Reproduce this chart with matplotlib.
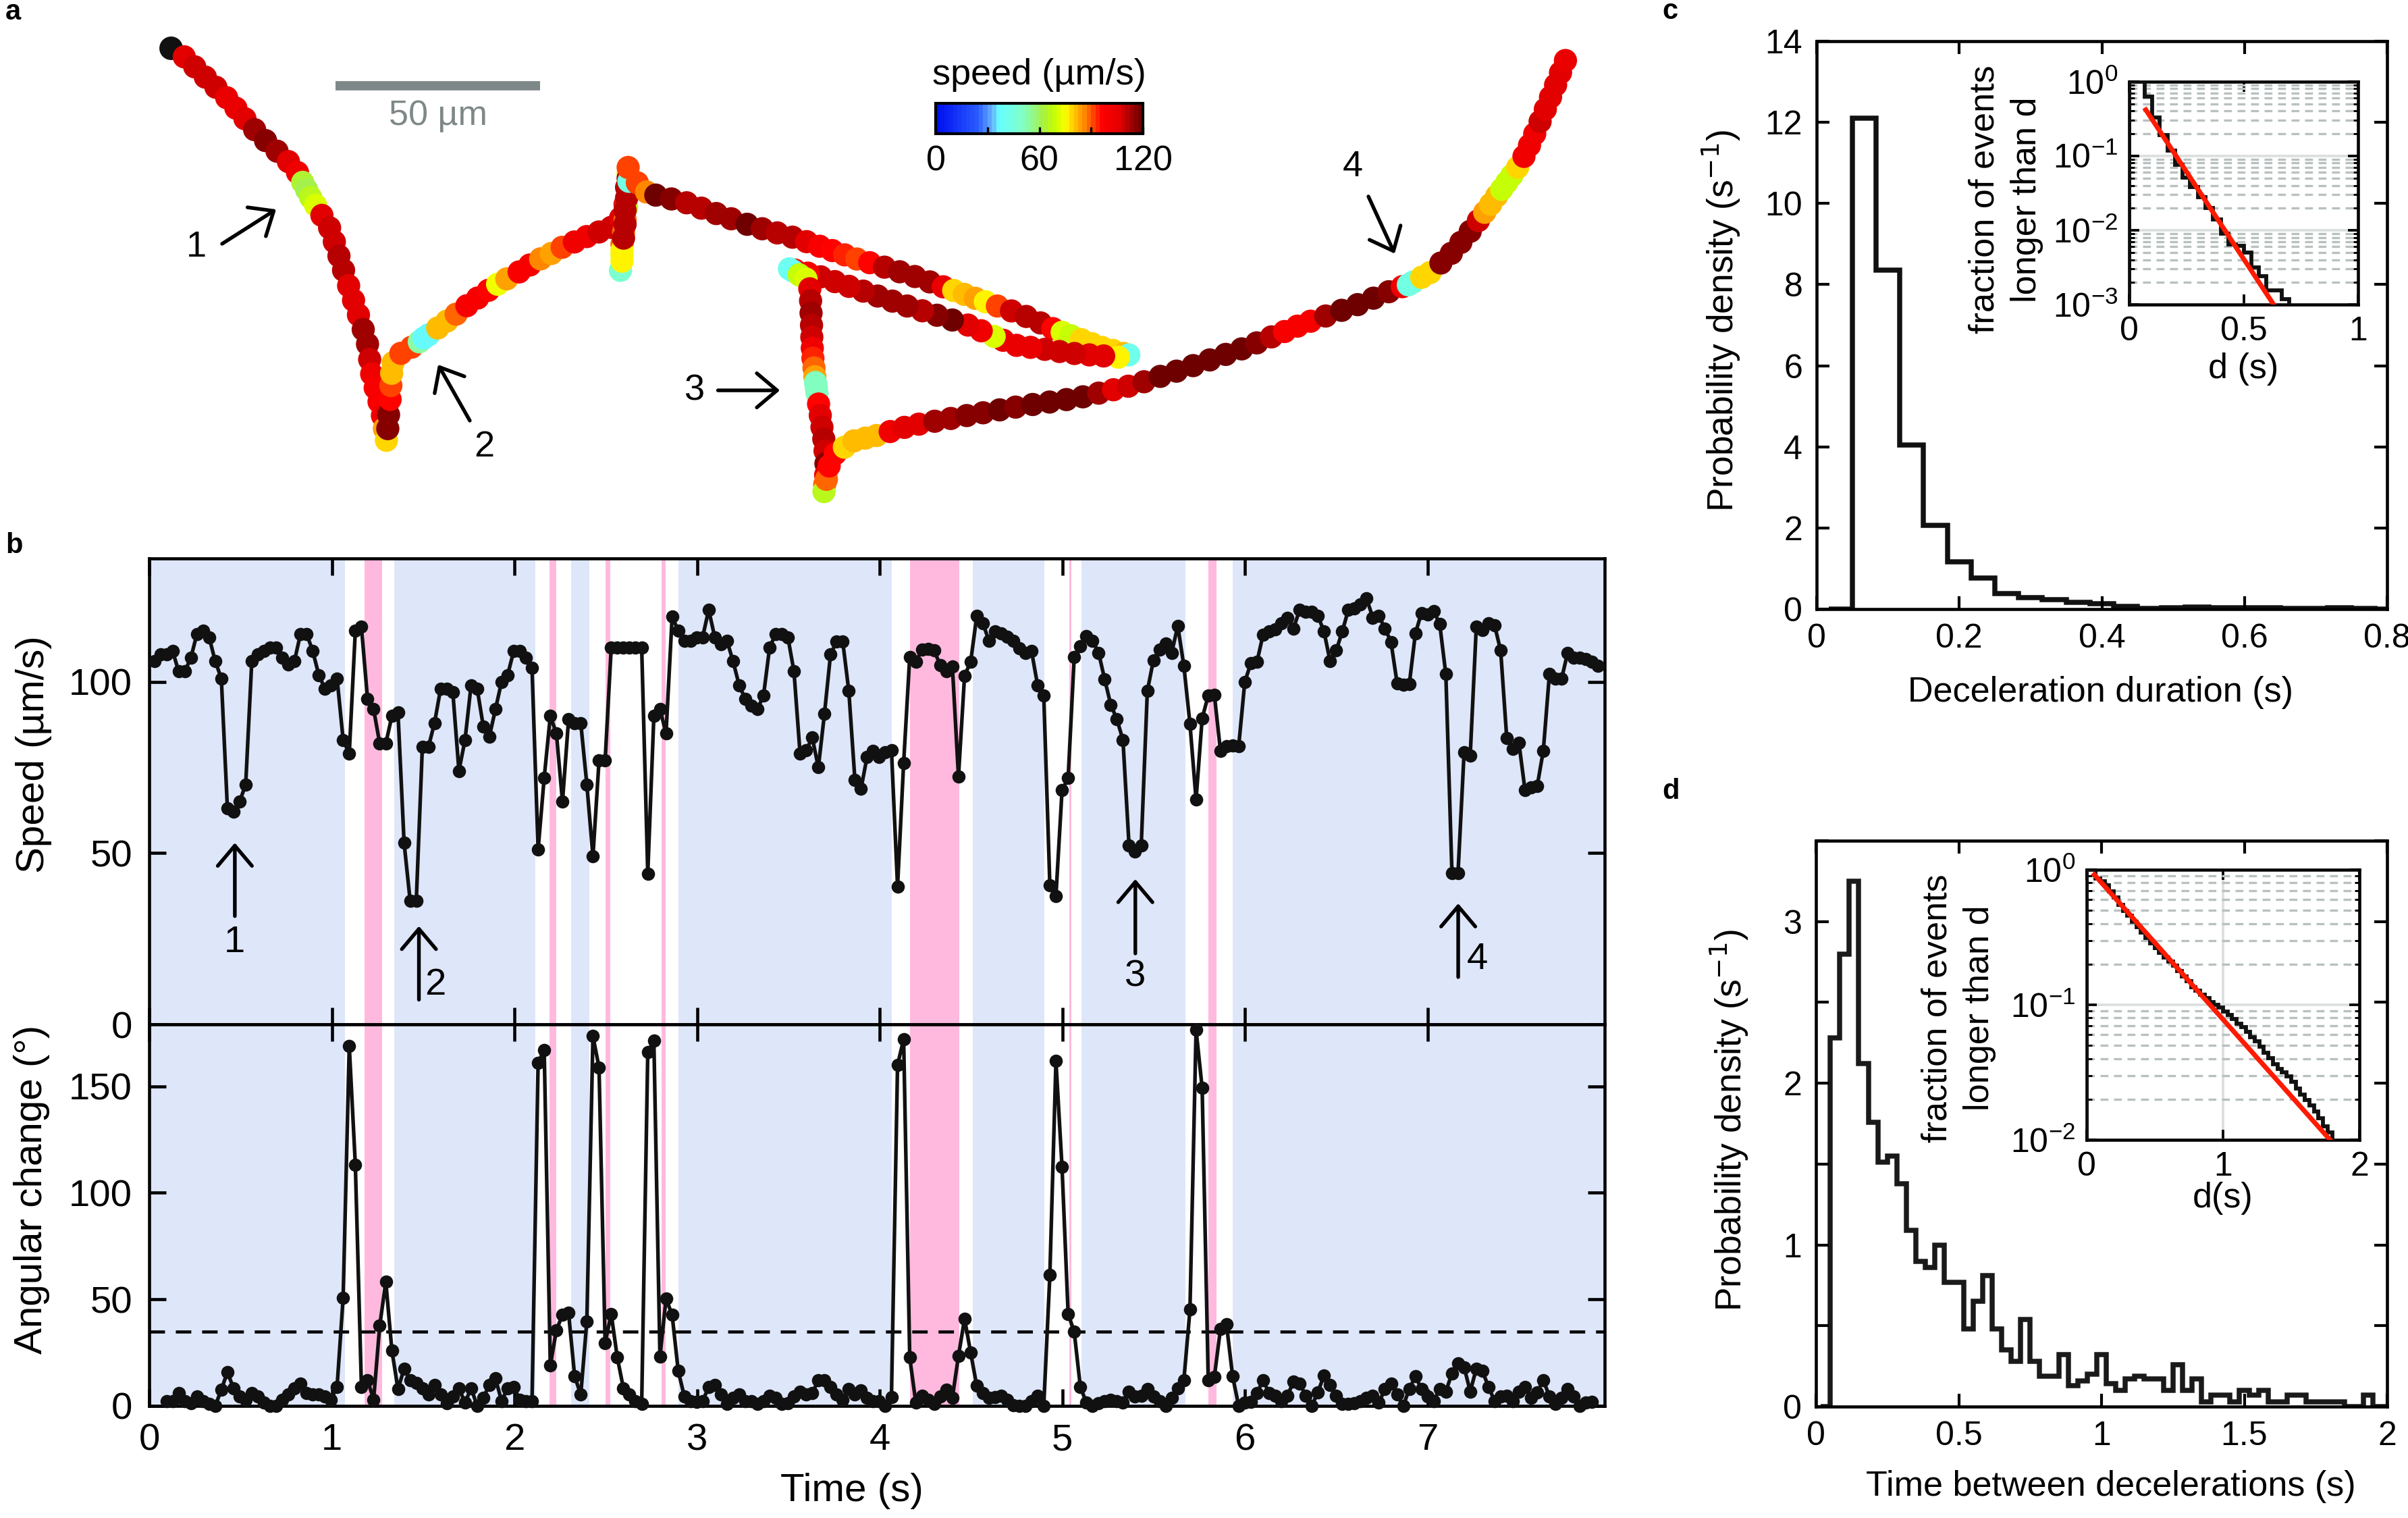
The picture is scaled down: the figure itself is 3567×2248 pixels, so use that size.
import numpy as np
import matplotlib
matplotlib.use("Agg")
import matplotlib.pyplot as plt
from matplotlib.colors import LinearSegmentedColormap, Normalize
from matplotlib.cm import ScalarMappable
import matplotlib.ticker as mticker

plt.rcParams['font.family'] = ['Liberation Sans', 'DejaVu Sans']
plt.rcParams['axes.unicode_minus'] = False
NARROW = ['Liberation Sans Narrow', 'Liberation Sans', 'DejaVu Sans']

# ---------------- data ----------------
# speed (um/s), one value per video frame
SPEED = [106, 108, 108, 109, 103, 103, 107, 114, 115, 113,
         106, 101, 63, 62, 65, 70, 106, 108, 109, 110,
         110, 107, 105, 106, 114, 114, 109, 102, 98, 99,
         101, 83, 79, 115, 116, 95, 92, 82, 82, 90,
         91, 53, 36, 36, 81, 81, 88, 98, 98, 97,
         74, 83, 99, 98, 87, 84, 92, 100, 102, 109,
         109, 107, 104, 51, 72, 90, 85, 65, 89, 88,
         88, 70, 49, 77, 77, 110, 110, 110, 110, 110,
         110, 44, 90, 92, 85, 119, 115, 112, 112, 113,
         113, 121, 113, 111, 112, 106, 99, 95, 93, 92,
         96, 110, 114, 114, 113, 103, 79, 80, 83.7, 75,
         90.6, 108, 111.8, 111.8, 97.3, 71.4, 68.75, 78.1, 79.9, 78.1,
         79.5, 80.1, 40.2, 76.3, 107.3, 105.8, 109.4, 109.6, 109.1, 104.9,
         103.1, 104.5, 72.3, 101.8, 105.8, 119.2, 117.1, 112, 114.7, 114.1,
         113.2, 112, 109.8, 108.5, 108.9, 98.9, 96, 40.6, 37.5, 68.3,
         71.9, 107.3, 110.3, 113.4, 112, 108.5, 100.7, 93.3, 89.1, 83,
         52.2, 50.4, 52.2, 97.3, 106.3, 109.4, 111.2, 108.5, 116.3, 104.6,
         87.7, 65.6, 89.3, 96, 96.25, 79.9, 81.25, 81.4, 81.25, 100,
         105.4, 105.8, 113.8, 114.7, 115.4, 117, 118.75, 115.6, 121, 120.4,
         120.4, 119.2, 114.7, 106, 109.1, 114.7, 121, 121.4, 122.5, 124.3,
         118.75, 119.2, 115.6, 111.6, 99.6, 99.1, 99.3, 114.1, 120.1, 119.6,
         120.7, 116.8, 102.2, 44.2, 44.2, 79.5, 78.4, 116.1, 115.2, 117.1,
         116.5, 109.1, 83.5, 80.5, 82.1, 68.3, 69.2, 69.6, 79.9, 102.2,
         100.9, 100.9, 108.5, 107.1, 107, 106.7, 105.8, 104.6]
T_FIRST = 0.028      # time of first speed sample (s)
FRAME_DT = 0.03336   # frame interval (s)

# angular change (deg), frames 2 .. 236
ANGLE = [2.3, 2.3, 6, 2.3, 1.2, 4.5, 2.3, 0.8, 0, 7.6,
         15.9, 8.3, 4.5, 3, 6, 4.5, 1.5, 0, 0, 3,
         5.3, 8.3, 10.6, 6, 5.3, 5.3, 4.5, 3, 9, 50.8,
         169, 113, 8.8, 12.1, 3, 37.6, 58.3, 26, 7.9, 17.4,
         12.1, 10.9, 8.3, 5.3, 9.8, 5.3, 1.2, 4.5, 8.3, 1.5,
         8.3, 0, 3.8, 9.8, 12.9, 2.3, 8.3, 8.8, 3, 2.3,
         2.3, 161, 167, 18.9, 35.6, 42.7, 43.6, 13.9, 5.3, 39.7,
         173.5, 158.8, 29.5, 43.2, 22.7, 8.3, 5.3, 2.3, 0.8, 166,
         171.5, 23, 50.3, 42.7, 16.4, 4.5, 2.3, 1.8, 2.3, 8.8,
         9.8, 5.3, 0.8, 3.8, 5.3, 2.3, 2.3, 0.8, 2.3, 4.8,
         3.8, 0.8, 1.2, 4.5, 6.8, 5.3, 6, 12.1, 12.1, 9,
         5.3, 3, 7.9, 5.3, 7.3, 3.8, 2.3,
         2.3, 0, 4.2, 160, 172, 22.7, 1.5, 4.8, 3, 0.8,
         4.5, 7.6, 3.8, 23.5, 40.9, 25, 9.4, 6, 3.8, 4.2,
         4.8, 2.7, 0.3, 0, 0, 2.3, 4.8, 0, 61.4, 161.8,
         112, 43.2, 34.8, 9, 1.5, 0, 1.2, 2.3, 2.7, 2.3,
         1.5, 6.8, 4.5, 4.8, 7.9, 4.5, 2.3, 0, 3.8, 8.3,
         12.1, 45.2, 176.5, 149.2, 12.1, 13.6, 36, 38.2, 13.9, 0,
         1.5, 1.8, 6, 12.1, 6, 4.8, 2.3, 4.8, 11.4, 10.6,
         4.8, 0, 6.4, 14.4, 9.8, 4.8, 0.8, 0.8, 1.2, 2.3,
         3.8, 4.8, 1.5, 7.9, 10.6, 5.3, 0, 7.9, 13.9, 7.9,
         4.5, 2.3, 7.9, 6.8, 15.2, 20, 18.2, 6.8, 17.4, 16.4,
         9, 2.3, 4.5, 4.8, 2.3, 6.8, 8.8, 3.8, 6.4, 12.1,
         4.5, 0.8, 3.8, 7.9, 4.5, 0, 1.5, 1.8]
ANGLE_FIRST_FRAME = 2
ANGLE_THRESHOLD = 35

# trajectory positions (image units, y downward), one per frame
TRAJ_X = [120, 126.8, 133.7, 140.6, 147.6, 153.6, 159.5, 165.8, 172.9, 180.4,
          187.8, 193.7, 197.1, 199.7, 202.3, 205.5, 209.6, 214.6, 217.7, 220.7,
          223.7, 227.0, 230.2, 233.4, 236.5, 239.3, 240.7, 242.0, 244.3, 246.8,
          249.0, 250.3, 251.6, 252.5, 253, 254, 254.5, 255, 256, 261,
          268, 273, 276, 279, 285, 291, 297, 304, 311, 318,
          324, 330, 338, 345, 352, 359, 366, 374, 382, 390,
          398, 404, 407, 408, 409, 409, 408, 408, 407, 406,
          405, 405, 404, 405, 405, 406, 407, 407, 408, 408,
          409, 409.5, 409, 415, 421, 427, 437.2, 447.1, 456.7, 466.4,
          476.1, 486.5, 496.3, 506.1, 516.0, 525.2, 533.7, 541.9, 550.0, 557.9,
          566.3, 575.9, 585.8, 595.7, 605.4, 614.2, 621.0, 627.9, 635.1, 641.6,
          649.4, 658.6, 668.2, 677.5, 685.5, 691.6, 697.4, 704.1, 710.9, 717.6,
          724.6, 731.6, 735, 728.2, 718.6, 709.3, 699.6, 689.9, 680.3, 671.0,
          661.9, 653.2, 647.3, 638.9, 630.3, 620.1, 610.1, 600.6, 590.7, 581.1,
          571.5, 562.1, 552.8, 543.6, 534.4, 526.0, 517.6, 514, 516.3, 520.4,
          524.8, 527.3, 527.8, 528.1, 528.4, 528.6, 528.9, 529.3, 530.0, 530.6,
          531, 531.5, 532.0, 533.0, 534.1, 535.2, 536.4, 537.2, 537.8, 537.6,
          537.0, 536.5, 538.1, 539.9, 543.8, 549.8, 556, 563.4, 570.7, 579.6,
          588.9, 598.3, 608.6, 619.1, 629.5, 640.1, 650.9, 661.3, 672.4, 683.4,
          694.4, 705.1, 715.4, 725.0, 734.7, 744.9, 755.5, 766.1, 776.9, 787.7,
          798.1, 808.5, 818.3, 827.9, 836.4, 844.8, 853.3, 863.2, 873.6, 884.0,
          894.3, 904.3, 913.1, 917, 920.1, 925.7, 931.2, 938.2, 945.0, 951.2,
          957.3, 962.6, 966.7, 970.6, 974.5, 977.8, 981.1, 984.4, 988.2, 992.3,
          995.9, 999.3, 1002.8, 1006.2, 1009.6, 1012.9, 1016.1, 1019.3]
TRAJ_Y = [37, 43.5, 50.2, 56.8, 63.6, 70.4, 77.3, 84.4, 91.5, 98.4,
          105.2, 112.3, 118.7, 123.6, 128.5, 133.6, 140.2, 148.3, 157.4, 166.6,
          175.9, 186.0, 195.5, 205.0, 214.5, 224.0, 234.0, 243.5, 252.5, 261.5,
          270.5, 279.0, 286.6, 279, 270, 260, 251, 243, 236, 230,
          226, 222.5, 220, 218, 213.5, 209, 204.5, 199, 194, 189,
          185, 181.5, 177, 172.5, 168.5, 165, 161, 157.5, 154, 151,
          148, 142, 133, 122, 113, 121, 129, 135, 143, 151,
          159, 166, 176, 170, 163, 155, 146, 137, 129, 122,
          116, 118, 109, 119, 125, 127, 129.5, 132.0, 135.5, 139.0,
          142.4, 146.0, 148.9, 151.6, 154.4, 157.3, 160.3, 163.1, 165.9, 168.6,
          171.0, 173.9, 176.9, 180.0, 183.5, 186.7, 189.1, 191.6, 194.2, 196.4,
          199.2, 202.4, 206.0, 210.2, 213.9, 216.3, 218.6, 221.1, 223.7, 226.2,
          228.1, 230.1, 231, 232.5, 231.7, 231.0, 230.1, 228.8, 227.4, 226.1,
          224.8, 221.5, 219.0, 215.3, 211.6, 208.3, 205.2, 202.3, 199.2, 196.0,
          192.7, 189.5, 186.4, 183.3, 180.2, 177.8, 175.8, 175, 176.4, 178.9,
          181.6, 188.0, 195.8, 203.8, 211.7, 219.4, 226.6, 233.2, 239.5, 245.2,
          249, 252.5, 256.1, 263.0, 270.4, 278.1, 285.8, 293.5, 301.8, 309.2,
          315.3, 320, 312.0, 303.3, 295.4, 291.1, 287, 285.2, 283.5, 280.9,
          278.2, 276.1, 274.2, 272.4, 270.5, 268.7, 266.8, 265.0, 263.3, 261.7,
          260.1, 258.3, 255.9, 253.7, 251.4, 248.5, 245.0, 241.6, 238.0, 234.3,
          230.7, 227.1, 223.2, 219.3, 215.8, 212.3, 209.1, 205.7, 202.0, 198.3,
          194.1, 189.9, 186.6, 185.4, 183.6, 180.5, 177.4, 171.2, 164.9, 157.8,
          150.6, 143.6, 138.2, 133.0, 127.6, 123.2, 118.7, 114.2, 108.9, 101.8,
          94.6, 87.1, 79.1, 71.1, 63.2, 55.3, 47.3, 39.4]
START_XY = (111, 31)
SCALEBAR_LEN = 133.1   # image units for 50 um

# state shading intervals (s)
BLUE_SPANS = [(0, 1.071), (1.341, 2.114), (2.312, 2.412), (2.898, 4.068),
              (4.51, 4.90), (5.105, 5.674), (5.933, 7.97)]
PINK_SPANS = [(1.179, 1.276), (2.193, 2.23), (2.5, 2.523), (2.804, 2.827),
              (4.165, 4.436), (5.038, 5.048), (5.80, 5.845)]

# speed colormap stops
CMAP_POS = [0.0, 0.2, 0.27, 0.3, 0.42, 0.52, 0.58, 0.63, 0.67, 0.72, 0.77, 0.81, 0.9, 1.0]
CMAP_COL = ['#0010f0', '#2a5cff', '#6ab4ff', '#66ffff', '#80ffc8', '#a8f040', '#c8ff00',
            '#ffff00', '#ffc800', '#ff8c00', '#ff3c00', '#ff0000', '#e00000', '#6e0000']

# panel c: deceleration duration histogram (density, 1/30 s bins from 0.5/30 s)
DUR_DENS = [0, 12.11, 8.35, 4.05, 2.07, 1.17, 0.77, 0.38, 0.28, 0.24, 0.17, 0.14,
            0.06, 0.02, 0.03, 0.05, 0.04, 0.03, 0.03, 0.01, 0.02, 0.03, 0.01, 0.0]
# inset c: fraction longer than d, steps at n/30 s (n = 2, 3, ...)
DUR_SURV = [1.0, 0.622, 0.327, 0.19, 0.117, 0.0757, 0.0505, 0.0377, 0.0279, 0.0197,
            0.0139, 0.00895, 0.00643, 0.00622, 0.00500, 0.00318, 0.00242, 0.00155,
            0.00155, 0.00118]
DUR_FIT_D = [0.0725, 0.631]
DUR_FIT_S = [0.415, 0.001]

# panel d: time between decelerations histogram
GAP_DENS = [0, 2.28, 2.80, 3.25, 2.12, 1.76, 1.51, 1.55, 1.38, 1.09, 0.90,
            0.86, 1.00, 0.77, 0.77, 0.48, 0.65, 0.81, 0.48, 0.35, 0.28,
            0.54, 0.28, 0.19, 0.19, 0.32, 0.13, 0.16, 0.20, 0.32, 0.14,
            0.10, 0.17, 0.19, 0.17, 0.17, 0.10, 0.26, 0.10, 0.17, 0.03,
            0.07, 0.07, 0.03, 0.10, 0.07, 0.10, 0.03, 0.03, 0.07, 0.07,
            0.03, 0.03, 0.03, 0.03, 0.0, 0.0, 0.07, 0.0, 0.0]
GAP_SURV = [1.0, 0.865, 0.826, 0.765, 0.695, 0.627, 0.552, 0.498, 0.456, 0.411, 0.377,
            0.342, 0.313, 0.286, 0.262, 0.242, 0.224, 0.208, 0.196, 0.178, 0.163,
            0.149, 0.135, 0.127, 0.119, 0.112, 0.105, 0.1, 0.0956, 0.0895, 0.0838,
            0.0783, 0.0726, 0.068, 0.0630, 0.0578, 0.0534, 0.0489, 0.0442, 0.0405,
            0.0364, 0.0334, 0.0318, 0.0296, 0.0268, 0.0239, 0.0217, 0.0197, 0.0179,
            0.0163, 0.0145, 0.0126, 0.0113]
GAP_FIT_D = [0.058, 1.785]
GAP_FIT_S = [0.92, 0.01]

# ---------------- figure ----------------
W, H = 3567, 2248
fig = plt.figure(figsize=(W / 300, H / 300), dpi=300)


def fx(px):
    return px / W


def fy(py):
    return 1 - py / H


def box(l, t, r, b):
    return [fx(l), fy(b), fx(r) - fx(l), (b - t) / H]


cmap = LinearSegmentedColormap.from_list('speed', list(zip(CMAP_POS, CMAP_COL)), N=48)
norm = Normalize(0, 120)

# ---- panel a ----
axa = fig.add_axes(box(0, 0, 2400, 780))
axa.set_xlim(0, 2400 / 2.275)
axa.set_ylim(780 / 2.275, 0)
axa.axis('off')
axa.scatter([START_XY[0]], [START_XY[1]], s=70, c='#111111', linewidths=0, zorder=2)
axa.scatter(TRAJ_X, TRAJ_Y, c=SPEED, cmap=cmap, norm=norm, s=68, linewidths=0, zorder=3)
SB_X0, SB_Y = 218.5, 55.8
axa.plot([SB_X0, SB_X0 + SCALEBAR_LEN], [SB_Y, SB_Y], color='#7f8888', lw=3.3,
         solid_capstyle='butt')
axa.text(SB_X0 + SCALEBAR_LEN / 2, 75.6, '50 µm', color='#7f8888', ha='center',
         va='center', fontsize=12.5, family=NARROW)
arrow_kw = dict(arrowstyle='->,head_length=0.45,head_width=0.38', lw=1.3, color='k',
                shrinkA=0, shrinkB=0, mutation_scale=16)
a_arrows = [((144.6, 158.7), (179.8, 136.3), (127.8, 160.9), '1'),
            ((305.9, 273.8), (285.3, 237.4), (315.2, 291.0), '2'),
            ((467.5, 254.1), (507.8, 254.1), (452.3, 254.5), '3'),
            ((891.0, 127.9), (908.1, 165.1), (880.8, 108.7), '4')]
for tail, head, lab, txt in a_arrows:
    axa.annotate('', xy=head, xytext=tail, arrowprops=arrow_kw)
    axa.text(lab[0], lab[1], txt, ha='center', va='center', fontsize=13, family=NARROW)

cax = fig.add_axes(box(1386, 152.7, 1693, 197.8))
cb = fig.colorbar(ScalarMappable(norm=norm, cmap=cmap), cax=cax, orientation='horizontal')
cb.set_ticks([0, 60, 120])
cax.xaxis.set_minor_locator(mticker.FixedLocator([30, 90]))
cax.tick_params(which='both', direction='in', length=2.5, width=0.8, labelsize=12.5, pad=4)
for lb in cax.get_xticklabels():
    lb.set_fontfamily(NARROW)
cb.outline.set_linewidth(1.0)
fig.text(fx(1539.5), fy(111.5), 'speed (µm/s)', ha='center', va='center', fontsize=13,
         family=NARROW)

# ---- panel b ----
t_speed = T_FIRST + FRAME_DT * np.arange(len(SPEED))
t_angle = t_speed[ANGLE_FIRST_FRAME:ANGLE_FIRST_FRAME + len(ANGLE)]
BLUE = '#dee6fa'
PINK = '#ffb9de'
XMAX = 7.97

ax_s = fig.add_axes(box(221, 827, 2377, 1517))
ax_a = fig.add_axes(box(221, 1517, 2377, 2082))
for ax in (ax_s, ax_a):
    for a0, a1 in BLUE_SPANS:
        ax.axvspan(a0, a1, color=BLUE, lw=0, zorder=0)
    for a0, a1 in PINK_SPANS:
        ax.axvspan(a0, a1, color=PINK, lw=0, zorder=0)
    ax.set_xlim(0, XMAX)
    ax.set_xticks(range(0, 8))
    ax.tick_params(direction='in', length=6, width=1.1, top=True, right=True,
                   labelsize=13.5, pad=6)
    for sp in ax.spines.values():
        sp.set_linewidth(1.1)

ax_s.plot(t_speed, SPEED, '-o', color='#111111', lw=1.3, ms=3.7, zorder=3)
ax_s.set_ylim(0, 136)
ax_s.set_yticks([0, 50, 100])
ax_s.tick_params(labelbottom=False)
ax_s.set_ylabel('Speed (µm/s)', fontsize=14)
ax_s.yaxis.set_label_coords(-0.067, 0.58)

ax_a.plot(t_angle, ANGLE, '-o', color='#111111', lw=1.3, ms=3.7, zorder=3, clip_on=False)
ax_a.axhline(ANGLE_THRESHOLD, color='k', lw=1.1, ls=(0, (5, 3.5)), zorder=2)
ax_a.set_ylim(0, 179)
ax_a.set_yticks([0, 50, 100, 150])
ax_a.set_xlabel('Time (s)', fontsize=14)
ax_a.xaxis.set_label_coords(0.483, -0.175)
ax_a.set_ylabel('Angular change (°)', fontsize=14)
ax_a.yaxis.set_label_coords(-0.068, 0.568)
for ax in (ax_s, ax_a):
    for lb in ax.get_xticklabels() + ax.get_yticklabels():
        lb.set_fontfamily(NARROW)

b_arrows = [(0.469, 31.6, 53.0, (0.469, 23.9), '1'),
            (1.477, 7.2, 28.7, (1.568, 11.5), '2'),
            (5.40, 20.7, 42.4, (5.40, 13.8), '3'),
            (7.168, 13.8, 35.3, (7.274, 18.9), '4')]
for t, v0, v1, lab, txt in b_arrows:
    ax_s.annotate('', xy=(t, v1), xytext=(t, v0), arrowprops=arrow_kw, zorder=4)
    ax_s.text(lab[0], lab[1], txt, ha='center', va='center', fontsize=13.5, family=NARROW)

# ---- panel c ----
axc = fig.add_axes(box(2691, 61, 3536, 902))
c_edges = (np.arange(len(DUR_DENS) + 1) + 0.5) / 30
axc.stairs(DUR_DENS, c_edges, baseline=0, color='#111111', lw=1.8)
axc.set_xlim(0, 0.8)
axc.set_ylim(0, 14)
axc.set_xticks([0, 0.2, 0.4, 0.6, 0.8])
axc.set_xticklabels(['0', '0.2', '0.4', '0.6', '0.8'])
axc.set_yticks(range(0, 15, 2))
axc.tick_params(direction='in', length=4.5, width=1.0, top=True, right=True,
                labelsize=12, pad=5)
for sp in axc.spines.values():
    sp.set_linewidth(1.1)
axc.set_ylabel('Probability density (s$^{-1}$)', fontsize=12.8)
axc.yaxis.set_label_coords(-0.13, 0.508)
axc.set_xlabel('Deceleration duration (s)', fontsize=12.5)
axc.xaxis.set_label_coords(0.498, -0.118)


def style_inset(ax, ylo, xticks, xlabels, xlab, ylab, xl_coords, yl_coords, vgrid):
    ax.set_yscale('log')
    ax.set_ylim(ylo, 1)
    ax.set_xticks(xticks)
    ax.set_xticklabels(xlabels)
    ax.yaxis.set_major_locator(mticker.LogLocator(base=10, numticks=10))
    ax.yaxis.set_minor_locator(mticker.LogLocator(base=10, subs=np.arange(2, 10), numticks=20))
    ax.yaxis.set_minor_formatter(mticker.NullFormatter())
    ax.grid(True, which='major', axis='y', color='#dcdfdf', lw=0.9, ls='-', zorder=0)
    ax.grid(True, which='minor', axis='y', color='#b9c0c0', lw=0.8, ls=(0, (3.5, 2.5)), zorder=0)
    if vgrid:
        ax.grid(True, which='major', axis='x', color='#dcdfdf', lw=0.9, ls='-', zorder=0)
    ax.tick_params(which='major', direction='in', length=3.5, width=0.9, top=True, right=True,
                   labelsize=12, pad=4)
    ax.tick_params(which='minor', direction='in', length=1.8, width=0.7, top=True, right=True)
    for sp in ax.spines.values():
        sp.set_linewidth(1.1)
    ax.set_xlabel(xlab, fontsize=12.5)
    ax.xaxis.set_label_coords(*xl_coords)
    ax.set_ylabel(ylab, fontsize=12.5, linespacing=1.35)
    ax.yaxis.set_label_coords(*yl_coords)


axci = fig.add_axes(box(3154, 120.5, 3493, 451))
ci_edges = np.concatenate([[0.0], np.arange(2, len(DUR_SURV) + 2) / 30])
axci.stairs(DUR_SURV, ci_edges, baseline=1e-6, color='#111111', lw=1.4, zorder=3)
axci.plot(DUR_FIT_D, DUR_FIT_S, color='#ff1a00', lw=1.7, zorder=4)
axci.set_xlim(0, 1)
style_inset(axci, 1e-3, [0, 0.5, 1], ['0', '0.5', '1'], 'd (s)',
            'fraction of events\nlonger than d', (0.5, -0.215), (-0.375, 0.47), False)

# ---- panel d ----
axd = fig.add_axes(box(2690, 1245, 3536, 2083))
d_edges = (np.arange(len(GAP_DENS) + 1) + 0.5) / 30
axd.stairs(GAP_DENS, d_edges, baseline=0, color='#1a1a1a', lw=1.8)
axd.set_xlim(0, 2)
axd.set_ylim(0, 3.5)
axd.set_xticks([0, 0.5, 1, 1.5, 2])
axd.set_xticklabels(['0', '0.5', '1', '1.5', '2'])
axd.set_yticks(np.arange(0, 3.51, 0.5))
axd.set_yticklabels(['0', '', '1', '', '2', '', '3', ''])
axd.tick_params(direction='in', length=4.5, width=1.0, top=True, right=True,
                labelsize=12, pad=5)
for sp in axd.spines.values():
    sp.set_linewidth(1.1)
axd.set_ylabel('Probability density (s$^{-1}$)', fontsize=12.8)
axd.yaxis.set_label_coords(-0.115, 0.506)
axd.set_xlabel('Time between decelerations (s)', fontsize=12.5)
axd.xaxis.set_label_coords(0.516, -0.112)

axdi = fig.add_axes(box(3090.6, 1288, 3495, 1688))
di_edges = np.concatenate([[0.0], np.arange(2, len(GAP_SURV) + 2) / 30])
axdi.stairs(GAP_SURV, di_edges, baseline=1e-6, color='#111111', lw=1.4, zorder=3)
axdi.plot(GAP_FIT_D, GAP_FIT_S, color='#ff1a00', lw=1.7, zorder=4)
axdi.set_xlim(0, 2)
style_inset(axdi, 1e-2, [0, 1, 2], ['0', '1', '2'], 'd(s)',
            'fraction of events\nlonger than d', (0.5, -0.155), (-0.33, 0.488), True)

# panel letters
for txt, x, y in [('a', 8, 18), ('b', 8, 808), ('c', 2462, 17), ('d', 2462, 1172)]:
    fig.text(fx(x), fy(y), txt, fontsize=10, fontweight='bold', ha='left', va='center')

fig.savefig('out.png', dpi=300)
